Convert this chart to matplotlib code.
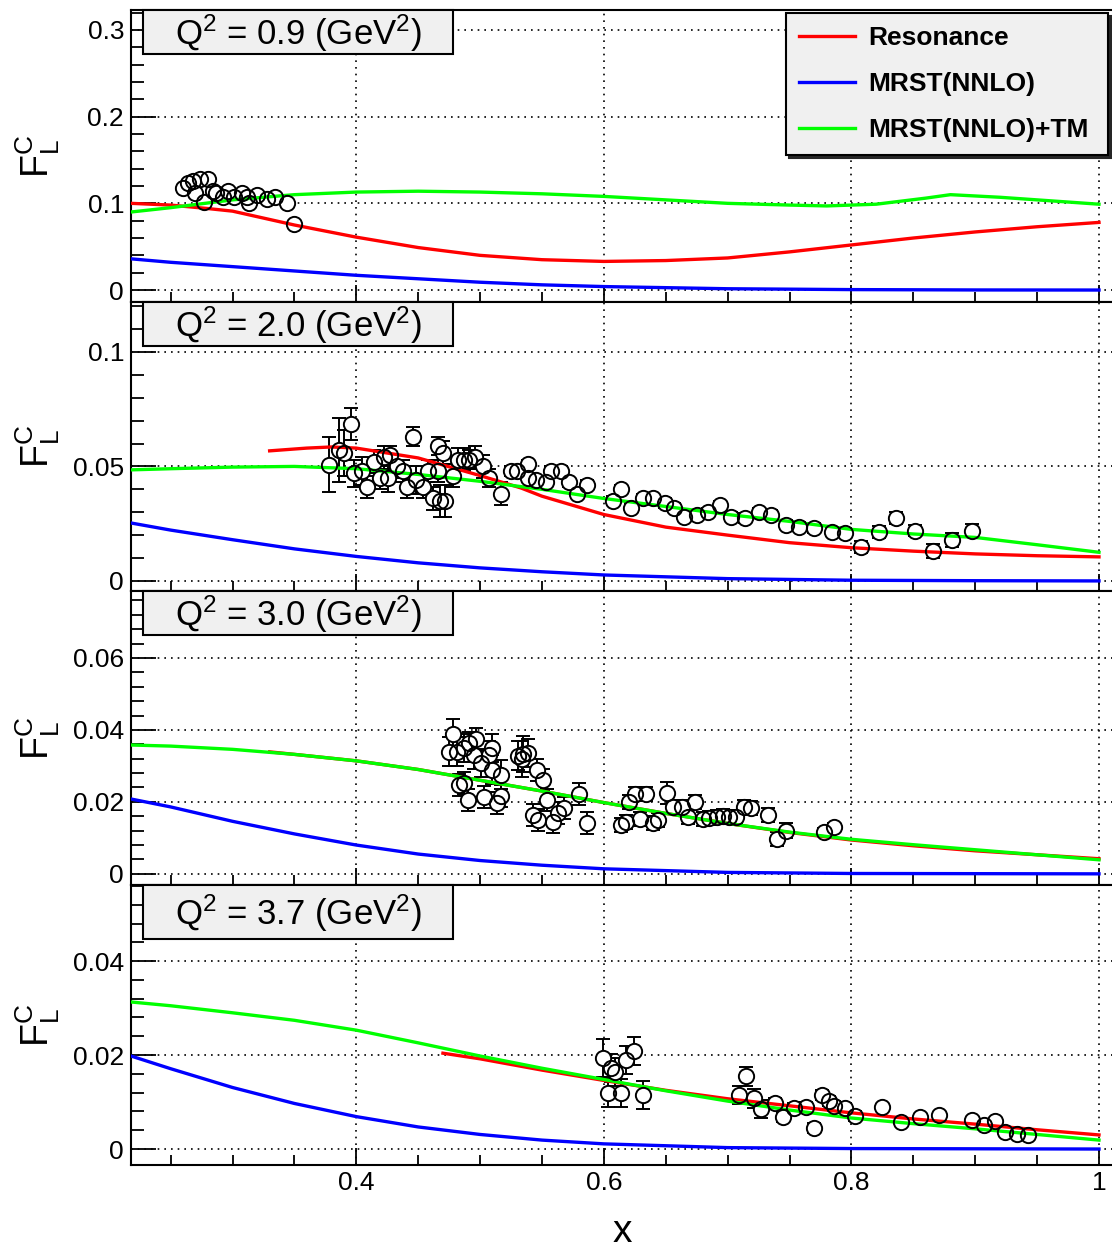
import numpy as np
import matplotlib
matplotlib.use('Agg')
import matplotlib.pyplot as plt
from matplotlib.patches import Rectangle
from matplotlib.ticker import MultipleLocator, FuncFormatter

plt.rcParams['font.family'] = ['Liberation Sans', 'DejaVu Sans']
plt.rcParams['mathtext.default'] = 'regular'

# ---------------- data ----------------
q2_labels = ['0.9', '2.0', '3.0', '3.7']

# panel 1 (Q2 = 0.9)
p1_x = [0.260, 0.264, 0.268, 0.274, 0.280, 0.270, 0.277, 0.284, 0.287, 0.296,
        0.292, 0.301, 0.308, 0.312, 0.313, 0.320, 0.328, 0.334, 0.344, 0.350]
p1_y = [0.118, 0.123, 0.126, 0.128, 0.128, 0.112, 0.101, 0.114, 0.112, 0.114,
        0.107, 0.107, 0.112, 0.107, 0.100, 0.110, 0.105, 0.107, 0.100, 0.076]
p1_e = [0.0] * len(p1_x)

res1_x = [0.218, 0.25, 0.28, 0.30, 0.35, 0.40, 0.45, 0.50, 0.55, 0.60, 0.65, 0.70, 0.75, 0.80, 0.85, 0.90, 0.95, 1.0]
res1_y = [0.100, 0.098, 0.094, 0.091, 0.075, 0.061, 0.049, 0.040, 0.035, 0.033, 0.034, 0.037, 0.044, 0.052, 0.060, 0.067, 0.073, 0.078]
tm1_x = [0.218, 0.25, 0.30, 0.35, 0.40, 0.45, 0.50, 0.55, 0.60, 0.65, 0.70, 0.75, 0.78, 0.82, 0.86, 0.88, 0.92, 0.96, 1.0]
tm1_y = [0.090, 0.095, 0.104, 0.110, 0.113, 0.114, 0.113, 0.111, 0.108, 0.104, 0.100, 0.098, 0.097, 0.099, 0.106, 0.110, 0.107, 0.103, 0.099]
mrst1_x = [0.218, 0.25, 0.30, 0.35, 0.40, 0.45, 0.50, 0.55, 0.60, 0.70, 0.80, 0.90, 1.0]
mrst1_y = [0.036, 0.032, 0.027, 0.022, 0.017, 0.013, 0.009, 0.006, 0.004, 0.0015, 0.0005, 0.0001, 0.0]

# panel 2 (Q2 = 2.0)
p2_x = [0.378, 0.386, 0.390, 0.396, 0.398, 0.405, 0.409, 0.414, 0.419, 0.422,
        0.427, 0.426, 0.433, 0.438, 0.441, 0.446, 0.448, 0.454, 0.458, 0.462,
        0.466, 0.470, 0.466, 0.468, 0.472, 0.478, 0.482, 0.487, 0.491, 0.496,
        0.502, 0.507, 0.517, 0.525, 0.530, 0.539, 0.539, 0.545, 0.553, 0.557,
        0.565, 0.572, 0.578, 0.586, 0.607, 0.614, 0.622, 0.632, 0.640, 0.649,
        0.657, 0.665, 0.675, 0.684, 0.694, 0.703, 0.714, 0.725, 0.735, 0.747,
        0.758, 0.770, 0.784, 0.795, 0.808, 0.822, 0.836, 0.851, 0.866, 0.881, 0.897]
p2_y = [0.0507, 0.057, 0.056, 0.0686, 0.047, 0.048, 0.041, 0.052, 0.045, 0.054,
        0.055, 0.045, 0.050, 0.048, 0.041, 0.063, 0.044, 0.041, 0.048, 0.036,
        0.059, 0.056, 0.048, 0.035, 0.035, 0.046, 0.053, 0.053, 0.053, 0.054,
        0.050, 0.045, 0.038, 0.048, 0.048, 0.051, 0.045, 0.044, 0.043, 0.048,
        0.048, 0.043, 0.038, 0.042, 0.035, 0.040, 0.032, 0.036, 0.036, 0.034,
        0.032, 0.028, 0.029, 0.030, 0.033, 0.028, 0.0275, 0.030, 0.029, 0.0245,
        0.0236, 0.0231, 0.0214, 0.021, 0.0148, 0.0214, 0.0275, 0.022, 0.013, 0.018, 0.022]
p2_e = [0.012, 0.014, 0.010, 0.007, 0.006, 0.006, 0.005, 0.005, 0.005, 0.005,
        0.004, 0.006, 0.005, 0.005, 0.005, 0.004, 0.006, 0.005, 0.005, 0.005,
        0.004, 0.005, 0.005, 0.007, 0.007, 0.005, 0.005, 0.005, 0.004, 0.005,
        0.005, 0.004, 0.005, 0.002, 0.002, 0.002, 0.002, 0.002, 0.002, 0.002,
        0.002, 0.002, 0.002, 0.002, 0.002, 0.002, 0.002, 0.002, 0.002, 0.002,
        0.002, 0.002, 0.002, 0.002, 0.002, 0.002, 0.002, 0.002, 0.002, 0.002,
        0.002, 0.002, 0.002, 0.002, 0.0025, 0.0025, 0.0025, 0.0025, 0.003, 0.003, 0.003]

res2_x = [0.33, 0.36, 0.38, 0.40, 0.45, 0.50, 0.533, 0.55, 0.60, 0.65, 0.70, 0.75, 0.80, 0.85, 0.90, 0.95, 1.0]
res2_y = [0.0568, 0.058, 0.0585, 0.058, 0.0537, 0.046, 0.0406, 0.037, 0.029, 0.0235, 0.020, 0.0167, 0.0145, 0.013, 0.0118, 0.011, 0.0105]
tm2_x = [0.218, 0.25, 0.30, 0.35, 0.40, 0.45, 0.50, 0.55, 0.60, 0.65, 0.70, 0.75, 0.80, 0.85, 0.90, 0.95, 1.0]
tm2_y = [0.0485, 0.049, 0.0497, 0.050, 0.049, 0.0465, 0.0435, 0.040, 0.036, 0.0325, 0.029, 0.026, 0.0225, 0.0205, 0.019, 0.0158, 0.0125]
mrst2_x = [0.218, 0.25, 0.30, 0.35, 0.40, 0.45, 0.50, 0.55, 0.60, 0.70, 0.80, 0.90, 1.0]
mrst2_y = [0.0253, 0.0222, 0.018, 0.014, 0.0107, 0.0079, 0.0057, 0.004, 0.0026, 0.001, 0.0003, 0.0001, 0.0]

# panel 3 (Q2 = 3.0)
p3_x = [0.478, 0.475, 0.481, 0.487, 0.491, 0.497, 0.495, 0.501, 0.507, 0.510,
        0.510, 0.517, 0.483, 0.487, 0.490, 0.503, 0.514, 0.517, 0.531, 0.534,
        0.535, 0.539, 0.546, 0.551, 0.554, 0.543, 0.547, 0.559, 0.563, 0.568,
        0.580, 0.586, 0.614, 0.618, 0.620, 0.625, 0.634, 0.629, 0.640, 0.644,
        0.651, 0.656, 0.663, 0.668, 0.674, 0.680, 0.685, 0.691, 0.696, 0.701,
        0.707, 0.713, 0.719, 0.733, 0.740, 0.747, 0.778, 0.786]
p3_y = [0.0389, 0.0339, 0.0339, 0.035, 0.0364, 0.0375, 0.033, 0.0308, 0.033, 0.035,
        0.0289, 0.0275, 0.0247, 0.0253, 0.0206, 0.0214, 0.0197, 0.0217, 0.0328, 0.0319,
        0.0333, 0.0336, 0.0289, 0.0261, 0.0206, 0.0164, 0.015, 0.0144, 0.0169, 0.0183,
        0.0222, 0.0142, 0.0136, 0.0144, 0.020, 0.0222, 0.0222, 0.0153, 0.0142, 0.015,
        0.0225, 0.0186, 0.0186, 0.0158, 0.020, 0.0153, 0.0156, 0.0158, 0.0161, 0.0158,
        0.0158, 0.0186, 0.0183, 0.0164, 0.0097, 0.012, 0.0117, 0.013]
p3_e = [0.004, 0.004, 0.004, 0.004, 0.003, 0.003, 0.004, 0.004, 0.004, 0.004,
        0.004, 0.004, 0.003, 0.003, 0.003, 0.003, 0.003, 0.003, 0.004, 0.005,
        0.005, 0.004, 0.003, 0.003, 0.003, 0.003, 0.003, 0.003, 0.003, 0.003,
        0.003, 0.003, 0.002, 0.002, 0.002, 0.002, 0.002, 0.002, 0.002, 0.002,
        0.003, 0.002, 0.002, 0.002, 0.002, 0.002, 0.002, 0.002, 0.002, 0.002,
        0.002, 0.002, 0.002, 0.002, 0.002, 0.002, 0.001, 0.001]

res3_x = [0.33, 0.35, 0.40, 0.45, 0.50, 0.55, 0.60, 0.65, 0.70, 0.75, 0.80, 0.85, 0.90, 0.95, 1.0]
res3_y = [0.0339, 0.0332, 0.0314, 0.029, 0.026, 0.023, 0.0198, 0.0168, 0.014, 0.0115, 0.0094, 0.0078, 0.0064, 0.0053, 0.0042]
tm3_x = [0.218, 0.25, 0.30, 0.35, 0.40, 0.45, 0.50, 0.55, 0.60, 0.65, 0.70, 0.75, 0.80, 0.85, 0.90, 0.95, 1.0]
tm3_y = [0.0358, 0.0355, 0.0346, 0.0332, 0.0314, 0.029, 0.026, 0.023, 0.0198, 0.0168, 0.014, 0.0116, 0.0096, 0.0081, 0.0067, 0.0053, 0.0039]
mrst3_x = [0.218, 0.25, 0.30, 0.35, 0.40, 0.45, 0.50, 0.55, 0.60, 0.70, 0.80, 1.0]
mrst3_y = [0.0208, 0.0186, 0.0146, 0.0111, 0.0080, 0.0055, 0.0037, 0.0024, 0.0014, 0.0004, 0.0001, 0.0]

# panel 4 (Q2 = 3.7)
p4_x = [0.599, 0.603, 0.606, 0.609, 0.614, 0.618, 0.624, 0.632, 0.709, 0.715,
        0.721, 0.727, 0.738, 0.745, 0.754, 0.763, 0.770, 0.776, 0.782, 0.786,
        0.795, 0.803, 0.825, 0.840, 0.855, 0.871, 0.897, 0.907, 0.916, 0.924,
        0.934, 0.943]
p4_y = [0.0194, 0.0119, 0.0172, 0.0164, 0.0119, 0.019, 0.0209, 0.0115, 0.0115, 0.0155,
        0.0108, 0.0085, 0.0098, 0.0068, 0.0087, 0.009, 0.0045, 0.0115, 0.0102, 0.0092,
        0.0087, 0.007, 0.009, 0.0058, 0.0068, 0.0072, 0.0062, 0.0051, 0.006, 0.0036,
        0.0032, 0.003]
p4_e = [0.004, 0.003, 0.003, 0.003, 0.003, 0.003, 0.003, 0.003, 0.002, 0.002,
        0.002, 0.002, 0.001, 0.001, 0.001, 0.001, 0.001, 0.001, 0.001, 0.001,
        0.001, 0.001, 0.0, 0.0, 0.0, 0.0, 0.0, 0.0, 0.0, 0.0,
        0.0, 0.0]

res4_x = [0.47, 0.50, 0.55, 0.60, 0.65, 0.70, 0.75, 0.80, 0.85, 0.90, 0.95, 1.0]
res4_y = [0.0204, 0.0192, 0.0168, 0.0146, 0.0125, 0.0107, 0.0092, 0.0077, 0.0064, 0.0053, 0.0041, 0.003]
tm4_x = [0.218, 0.25, 0.30, 0.35, 0.40, 0.45, 0.50, 0.55, 0.60, 0.65, 0.70, 0.75, 0.80, 0.85, 0.90, 0.95, 1.0]
tm4_y = [0.0313, 0.0305, 0.029, 0.0274, 0.0253, 0.0226, 0.0198, 0.0172, 0.0148, 0.0124, 0.0102, 0.0083, 0.0066, 0.0054, 0.0043, 0.0031, 0.0019]
mrst4_x = [0.218, 0.25, 0.30, 0.35, 0.40, 0.45, 0.50, 0.55, 0.60, 0.70, 0.80, 1.0]
mrst4_y = [0.0198, 0.0171, 0.0131, 0.0097, 0.0069, 0.0047, 0.0031, 0.0019, 0.0011, 0.0003, 0.0001, 0.0]

# ---------------- layout ----------------
W, H = 1112, 1250
fig = plt.figure(figsize=(W / 100, H / 100), dpi=100)

# (top px, bottom px, ylim, major, minor)
panels = [
    (10, 302, (-0.0138, 0.323), 0.1, 0.02),
    (302, 591, (-0.0044, 0.1218), 0.05, 0.01),
    (591, 885, (-0.0031, 0.0786), 0.02, 0.004),
    (885, 1165, (-0.0034, 0.0562), 0.02, 0.004),
]
points = [(p1_x, p1_y, p1_e), (p2_x, p2_y, p2_e), (p3_x, p3_y, p3_e), (p4_x, p4_y, p4_e)]
res = [(res1_x, res1_y), (res2_x, res2_y), (res3_x, res3_y), (res4_x, res4_y)]
mrst = [(mrst1_x, mrst1_y), (mrst2_x, mrst2_y), (mrst3_x, mrst3_y), (mrst4_x, mrst4_y)]
tm = [(tm1_x, tm1_y), (tm2_x, tm2_y), (tm3_x, tm3_y), (tm4_x, tm4_y)]

left = 131 / W
fmt = FuncFormatter(lambda v, p: '%g' % round(v, 4))

for i, (top, bot, ylim, major, minor) in enumerate(panels):
    ax = fig.add_axes([left, 1 - bot / H, 1 - left, (bot - top) / H])
    ax.set_xlim(0.218, 1.0105)
    ax.set_ylim(*ylim)
    ax.spines['right'].set_visible(False)
    for s in ax.spines.values():
        s.set_linewidth(1.5)

    ax.xaxis.set_major_locator(MultipleLocator(0.2))
    ax.xaxis.set_minor_locator(MultipleLocator(0.05))
    ax.yaxis.set_major_locator(MultipleLocator(major))
    ax.yaxis.set_minor_locator(MultipleLocator(minor))
    ax.yaxis.set_major_formatter(fmt)
    ax.xaxis.set_major_formatter(fmt)
    ax.tick_params(which='both', direction='in', top=False, right=False, width=1.3)
    ax.tick_params(which='major', length=18, labelsize=19, pad=5)
    ax.tick_params(which='minor', length=9)
    ax.tick_params(axis='x', which='major', length=12)
    ax.tick_params(axis='x', which='minor', length=7)
    if i < 3:
        ax.tick_params(axis='x', labelbottom=False)
    else:
        ax.tick_params(axis='x', pad=4)
    ax.grid(True, which='major', color='black', linestyle=(0, (1, 3)), linewidth=1.2)
    ax.set_axisbelow(True)

    # curves
    ax.plot(*mrst[i], color='#0000ff', lw=2.4, zorder=4, label='MRST(NNLO)')
    ax.plot(*res[i], color='#ff0000', lw=2.4, zorder=4, label='Resonance')
    ax.plot(*tm[i], color='#00ff00', lw=2.4, zorder=4, label='MRST(NNLO)+TM')

    # data points: error bars, white fill, then open outline on top
    px, py, pe = points[i]
    ax.errorbar(px, py, yerr=pe, fmt='none', ecolor='black', elinewidth=1.4,
                capsize=5, capthick=1.4, zorder=3)
    ax.plot(px, py, 'o', ms=11, mfc='white', mec='none', zorder=3.5)
    ax.plot(px, py, 'o', ms=11, mfc='none', mec='black', mew=1.4, zorder=5)

    # Q2 label box
    bh = 44 if i < 3 else 54
    x0, x1 = 143, 453
    fig.add_artist(Rectangle((x0 / W, 1 - (top + bh) / H), (x1 - x0) / W, bh / H,
                             transform=fig.transFigure, facecolor='#f0f0f0',
                             edgecolor='black', lw=1.5, zorder=10))
    fig.text((x0 + x1) / 2 / W, 1 - (top + bh / 2 + 1) / H,
             r'Q$^{2}$ = %s (GeV$^{2}$)' % q2_labels[i],
             ha='center', va='center', fontsize=25, zorder=11)

    # y label
    fig.text(38 / W, 1 - (top + bot) / 2 / H, r'F$_{L}^{C}$', rotation=90,
             ha='center', va='center', fontsize=27)

    if i == 0:
        handles, labels = ax.get_legend_handles_labels()
        order = [1, 0, 2]
        leg = ax.legend([handles[k] for k in order], [labels[k] for k in order],
                        loc='upper left', mode='expand',
                        bbox_to_anchor=(0.6677, 0.5, 0.3282, 0.4897),
                        borderaxespad=0, fancybox=False, shadow={'color': '0.15', 'alpha': 1},
                        facecolor='#f0f0f0', edgecolor='black', framealpha=1,
                        prop={'weight': 'bold', 'size': 19}, handlelength=2.1,
                        labelspacing=0.83, borderpad=0.5, handletextpad=0.5)
        leg.get_frame().set_linewidth(1.5)
        leg.set_zorder(20)

fig.text(622 / W, 1 - 1232 / H, 'x', ha='center', va='center', fontsize=28)

plt.savefig('out.png', dpi=100)
